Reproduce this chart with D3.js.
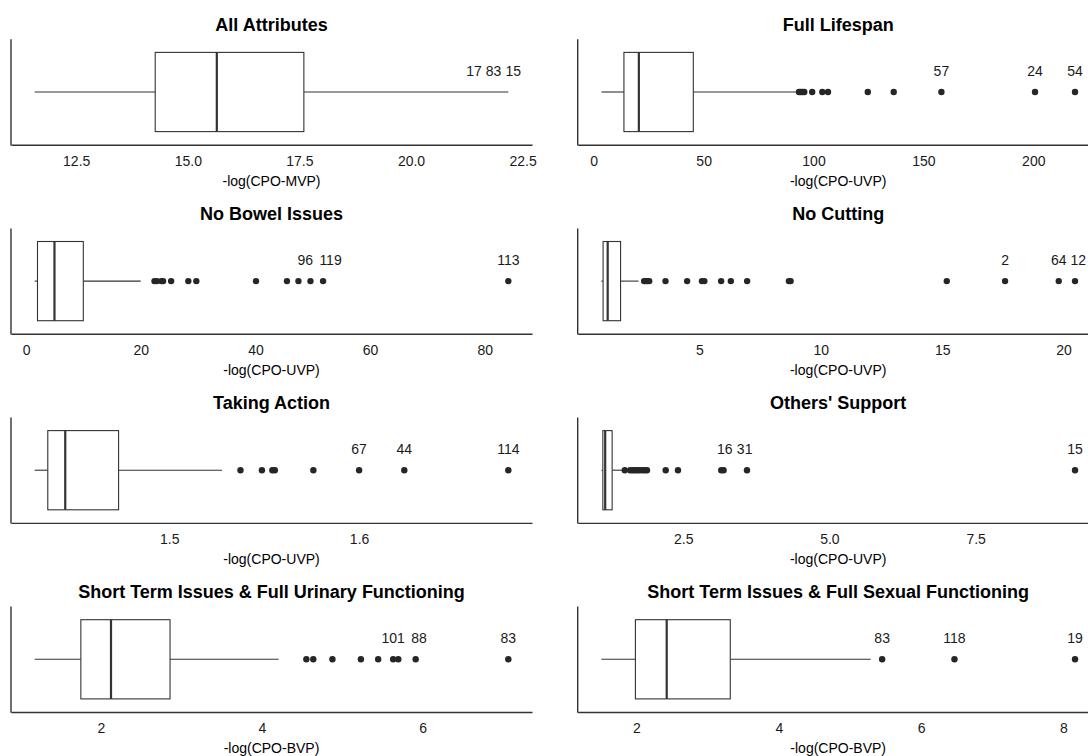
<!DOCTYPE html>
<html>
<head>
<meta charset="utf-8">
<script src="https://cdn.jsdelivr.net/npm/d3@7"></script>
<style>
  html, body { margin: 0; padding: 0; background: #fff; }
  svg { display: block; font-family: "Liberation Sans", Arial, Helvetica, sans-serif; }
</style>
</head>
<body>
<svg id="chart" width="1088" height="756"></svg>
<script>
// Panel titles and axis titles
const panelTitles = [
  "All Attributes", "Full Lifespan",
  "No Bowel Issues", "No Cutting",
  "Taking Action", "Others' Support",
  "Short Term Issues & Full Urinary Functioning", "Short Term Issues & Full Sexual Functioning"
];
const axisTitles = [
  "-log(CPO-MVP)", "-log(CPO-UVP)",
  "-log(CPO-UVP)", "-log(CPO-UVP)",
  "-log(CPO-UVP)", "-log(CPO-UVP)",
  "-log(CPO-BVP)", "-log(CPO-BVP)"
];

// Box statistics per panel: [lower whisker, Q1, median, Q3, upper whisker]
const boxStats = [
  [11.57, 14.27, 15.65, 17.60, 22.18],
  [3.47, 13.73, 20.52, 45.3, 92.3],
  [1.51, 2.0, 4.96, 9.99, 20.0],
  [0.97, 1.04, 1.23, 1.76, 2.5],
  [1.4291, 1.4360, 1.4452, 1.4733, 1.5278],
  [1.10, 1.125, 1.165, 1.284, 1.486],
  [1.176, 1.75, 2.125, 2.859, 4.209],
  [1.507, 1.985, 2.425, 3.318, 5.291]
];

// Outlying observations per panel
const outliers = [
  [],
  [93.4, 94.2, 95.0, 95.8, 99.4, 104.0, 106.6, 124.7, 136.5, 158.2, 200.8, 219.0],
  [22.4, 22.8, 23.6, 23.9, 25.3, 28.3, 29.7, 40.1, 45.5, 47.5, 49.6, 51.8, 84.1],
  [2.73, 2.80, 2.87, 2.94, 3.61, 4.50, 5.11, 5.21, 5.90, 6.30, 6.97, 8.69, 8.76, 15.19, 17.59, 19.80, 20.47],
  [1.5375, 1.5488, 1.5543, 1.5556, 1.5759, 1.6000, 1.6238, 1.6786],
  [1.50, 1.593, 1.634, 1.67, 1.71, 1.75, 1.80, 1.84, 1.88, 2.20, 2.41, 3.15, 3.19, 3.59, 9.20],
  [4.554, 4.640, 4.878, 5.232, 5.447, 5.633, 5.697, 5.913, 7.065],
  [5.452, 6.468, 8.162]
];

// Observation ids of the three largest values and where their labels sit
const labelIds = [
  ["17", "83", "15"], ["57", "24", "54"],
  ["96", "119", "113"], ["2", "64", "12"],
  ["67", "44", "114"], ["16", "31", "15"],
  ["101", "88", "83"], ["83", "118", "19"]
];
const labelAt = [
  [21.41, 21.85, 22.29], [158.2, 200.8, 219.0],
  [48.7, 53.1, 84.1], [17.59, 19.8, 20.6],
  [1.6000, 1.6238, 1.6786], [3.21, 3.55, 9.20],
  [5.633, 5.956, 7.065], [5.452, 6.468, 8.162]
];

// Tick values and their labels
const tickValues = [
  [12.5, 15, 17.5, 20, 22.5], [0, 50, 100, 150, 200],
  [0, 20, 40, 60, 80], [5, 10, 15, 20],
  [1.5, 1.6], [2.5, 5.0, 7.5],
  [2, 4, 6], [2, 4, 6, 8]
];
const tickLabels = [
  ["12.5", "15.0", "17.5", "20.0", "22.5"], ["0", "50", "100", "150", "200"],
  ["0", "20", "40", "60", "80"], ["5", "10", "15", "20"],
  ["1.5", "1.6"], ["2.5", "5.0", "7.5"],
  ["2", "4", "6"], ["2", "4", "6", "8"]
];

// Layout
const colX = [11, 577.7];
const panelW = 521;
const firstTop = 39.3, rowStep = 189.1, panelH = 105.4;
const boxHalf = 39.6;
const ink = "#333333";

const svg = d3.select("#chart");
svg.append("rect").attr("width", 1088).attr("height", 756).attr("fill", "#fff");

panelTitles.forEach((title, i) => {
  const col = i % 2, row = Math.floor(i / 2);
  const x0 = colX[col], x1 = x0 + panelW;
  const top = firstTop + row * rowStep, bottom = top + panelH;
  const cy = top + panelH / 2;

  const s = boxStats[i];
  const lo = s[0];
  const hi = d3.max([s[4], ...outliers[i]]);
  const pad = (hi - lo) * 0.05;
  const x = d3.scaleLinear().domain([lo - pad, hi + pad]).range([x0, x1]);

  const g = svg.append("g");

  // title
  g.append("text")
    .attr("x", (x0 + x1) / 2).attr("y", top - 8.5)
    .attr("text-anchor", "middle")
    .attr("font-size", 18).attr("font-weight", "bold").attr("fill", "#000")
    .text(title);

  // x axis
  const ax = g.append("g")
    .attr("transform", `translate(0,${bottom})`)
    .call(d3.axisBottom(x).tickValues(tickValues[i])
      .tickFormat((d, j) => tickLabels[i][j])
      .tickSize(0).tickPadding(11));
  ax.select(".domain").attr("stroke", ink).attr("stroke-width", 1.4);
  ax.selectAll("text").attr("font-size", 14).attr("fill", "#1a1a1a")
    .attr("font-family", "Liberation Sans, Arial, Helvetica, sans-serif");

  // y axis line
  g.append("line")
    .attr("x1", x0).attr("x2", x0).attr("y1", top).attr("y2", bottom + 0.7)
    .attr("stroke", ink).attr("stroke-width", 1.4);

  // axis title
  g.append("text")
    .attr("x", (x0 + x1) / 2).attr("y", bottom + 41)
    .attr("text-anchor", "middle").attr("font-size", 14).attr("fill", "#000")
    .text(axisTitles[i]);

  // whiskers
  g.append("line").attr("x1", x(s[0])).attr("x2", x(s[1]))
    .attr("y1", cy).attr("y2", cy).attr("stroke", ink).attr("stroke-width", 1.1);
  g.append("line").attr("x1", x(s[3])).attr("x2", x(s[4]))
    .attr("y1", cy).attr("y2", cy).attr("stroke", ink).attr("stroke-width", 1.1);

  // box
  g.append("rect")
    .attr("x", x(s[1])).attr("y", cy - boxHalf)
    .attr("width", x(s[3]) - x(s[1])).attr("height", boxHalf * 2)
    .attr("fill", "#fff").attr("stroke", ink).attr("stroke-width", 1.1);

  // median
  g.append("line").attr("x1", x(s[2])).attr("x2", x(s[2]))
    .attr("y1", cy - boxHalf).attr("y2", cy + boxHalf)
    .attr("stroke", ink).attr("stroke-width", 2.2);

  // outliers
  g.selectAll("circle.out").data(outliers[i]).join("circle")
    .attr("class", "out")
    .attr("cx", d => x(d)).attr("cy", cy).attr("r", 3.2)
    .attr("fill", "#262626");

  // id labels
  g.selectAll("text.lab").data(labelIds[i]).join("text")
    .attr("class", "lab")
    .attr("x", (d, j) => x(labelAt[i][j])).attr("y", cy - 16)
    .attr("text-anchor", "middle").attr("font-size", 14).attr("fill", "#1a1a1a")
    .text(d => d);
});
</script>
</body>
</html>
